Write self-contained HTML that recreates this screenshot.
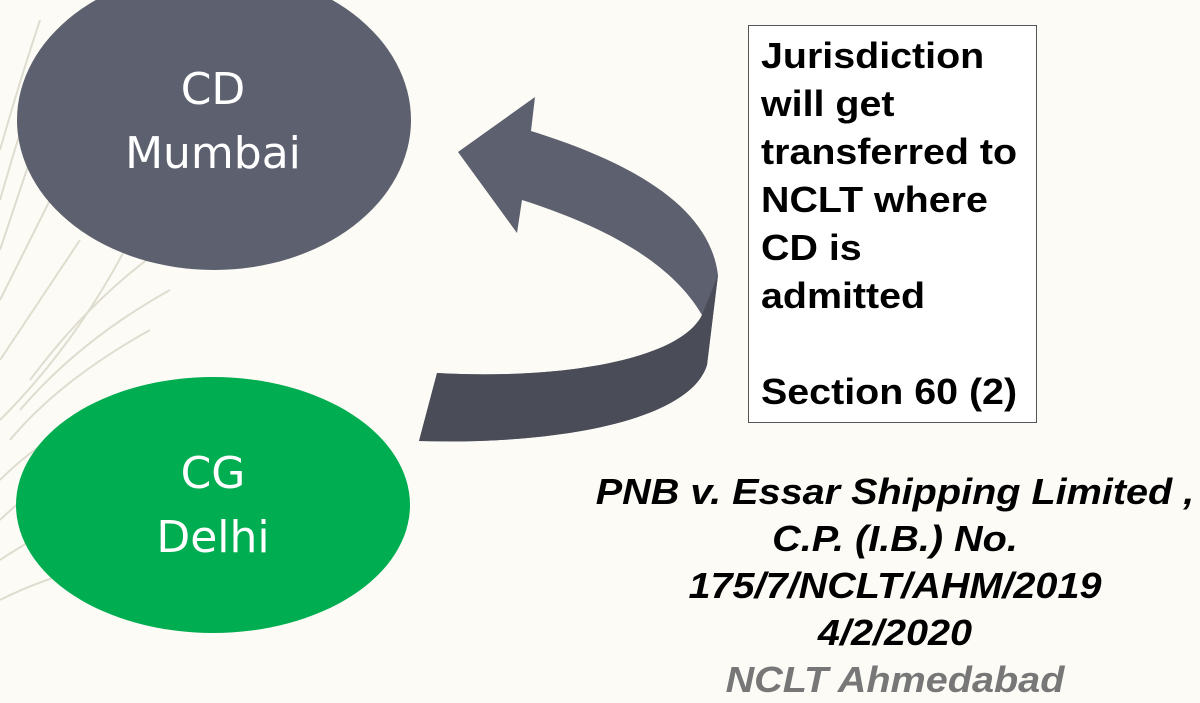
<!DOCTYPE html>
<html><head><meta charset="utf-8"><style>
html,body{margin:0;padding:0}
body{width:1200px;height:675px;overflow:hidden;background:#fcfbf6;position:relative;font-family:"Liberation Sans",Arial,sans-serif}
.lbl{position:absolute;color:#fff;font-family:"DejaVu Sans","Liberation Sans",sans-serif;font-size:44px;text-align:center;line-height:64px}
.box{position:absolute;left:748px;top:25px;width:289px;height:398px;border:1px solid #555;background:#fff;box-sizing:border-box;}
.boxt{position:absolute;left:761px;top:32px;font-weight:bold;font-size:36px;line-height:48px;color:#000;transform:scaleX(1.094);transform-origin:0 0;white-space:nowrap}
.cite{position:absolute;left:575px;width:640px;text-align:center;font-weight:bold;font-style:italic;font-size:36px;line-height:47px;top:468px;color:#000;transform:scaleX(1.1);transform-origin:320px 0;white-space:nowrap}
</style></head><body>
<svg width="1200" height="675" style="position:absolute;left:0;top:0">
<g stroke="#dcdacb" stroke-width="2" fill="none" opacity="0.9">
<path d="M0 420 Q120 300 180 120"/>
<path d="M10 440 Q60 380 150 330"/><path d="M20 410 Q80 340 170 290"/><path d="M30 380 Q90 300 160 250"/>
<path d="M0 480 Q60 420 140 400"/><path d="M0 520 Q50 470 120 460"/><path d="M0 360 Q40 300 80 240"/>
<path d="M0 300 Q30 240 60 180"/><path d="M0 250 Q20 190 40 130"/><path d="M0 200 Q20 130 50 40"/>
<path d="M0 560 Q60 520 110 510"/><path d="M0 600 Q40 580 80 570"/><path d="M0 150 Q20 80 40 20"/>
</g>
<ellipse cx="214" cy="120" rx="197" ry="150" fill="#5d606e"/>
<ellipse cx="213" cy="505" rx="197" ry="128" fill="#00ad50"/>
<path d="M458 152 L535 97 L531 131 C640 165 710 210 718 275 L707 365 C690 420 560 445 419 441 L437 373 C560 380 680 360 702 315 C670 260 600 225 522 200 L517 233 Z" fill="#5d606e"/>
<path d="M702 315 L718 275 L707 365 C690 420 560 445 419 441 L437 373 C560 380 680 360 702 315 Z" fill="#4a4c58"/>
</svg>
<div class="lbl" style="left:113px;top:58px;width:200px">CD<br>Mumbai</div>
<div class="lbl" style="left:113px;top:442px;width:200px">CG<br>Delhi</div>
<div class="box"></div>
<div class="boxt">Jurisdiction<br>will get<br>transferred to<br>NCLT where<br>CD is<br>admitted<br><br>Section 60 (2)</div>
<div class="cite">PNB v. Essar Shipping Limited ,<br>C.P. (I.B.) No.<br>175/7/NCLT/AHM/2019<br>4/2/2020<br><span style="color:#777">NCLT Ahmedabad</span></div>
</body></html>
